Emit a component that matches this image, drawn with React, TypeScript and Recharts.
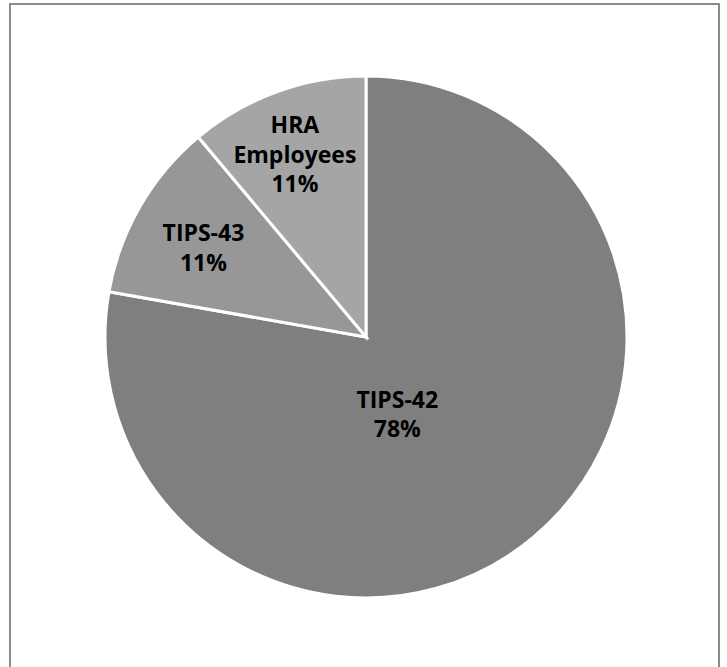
import { PieChart, Pie, Cell } from "recharts";

const categories = ["TIPS-42", "TIPS-43", "HRA Employees"];
const counts = [7, 1, 1];
const percentLabels = ["78%", "11%", "11%"];
const sliceColors = ["#7f7f7f", "#979797", "#a5a5a5"];

// label placement: fraction of radius + angle tweak (deg) relative to slice mid
const labelPlacement = [
  { r: 0.32, shift: -18 },
  { r: 0.71, shift: 1.3 },
  { r: 0.75, shift: 1.3 },
];

const data = categories.map((name, i) => ({
  name,
  value: counts[i],
  pct: percentLabels[i],
}));

const RAD = Math.PI / 180;

function SliceLabel(props: any) {
  const { cx, cy, midAngle, outerRadius, index } = props;
  const p = labelPlacement[index];
  const a = (midAngle + p.shift) * RAD;
  const x = cx + outerRadius * p.r * Math.cos(a);
  const y = cy - outerRadius * p.r * Math.sin(a);
  const lines = [...data[index].name.split(" "), data[index].pct];
  const lh = 29.5;
  const firstBase = y - ((lines.length - 1) * lh) / 2 + 8.2;
  return (
    <text
      x={x}
      y={firstBase}
      textAnchor="middle"
      fill="#000"
      fontFamily="'Open Sans', sans-serif"
      fontWeight={700}
      fontSize={23}
    >
      {lines.map((ln, k) => (
        <tspan key={k} x={x} y={firstBase + k * lh}>
          {ln}
        </tspan>
      ))}
    </text>
  );
}

export default function App() {
  return (
    <div
      style={{
        position: "absolute",
        left: 0,
        top: 0,
        width: 727,
        height: 667,
        overflow: "hidden",
        background: "#fff",
      }}
    >
      <div
        style={{
          position: "absolute",
          left: 9,
          top: 3,
          width: 711,
          height: 700,
          border: "2px solid #8a8a8a",
          boxSizing: "border-box",
        }}
      />
      <div style={{ position: "absolute", left: 0, top: 0 }}>
        <PieChart width={727} height={667}>
          <Pie
            data={data}
            dataKey="value"
            nameKey="name"
            cx={361}
            cy={332}
            outerRadius={261}
            startAngle={90}
            endAngle={-270}
            stroke="#ffffff"
            strokeWidth={3}
            labelLine={false}
            label={SliceLabel}
            isAnimationActive={false}
          >
            {data.map((d, i) => (
              <Cell key={d.name} fill={sliceColors[i]} />
            ))}
          </Pie>
        </PieChart>
      </div>
    </div>
  );
}
